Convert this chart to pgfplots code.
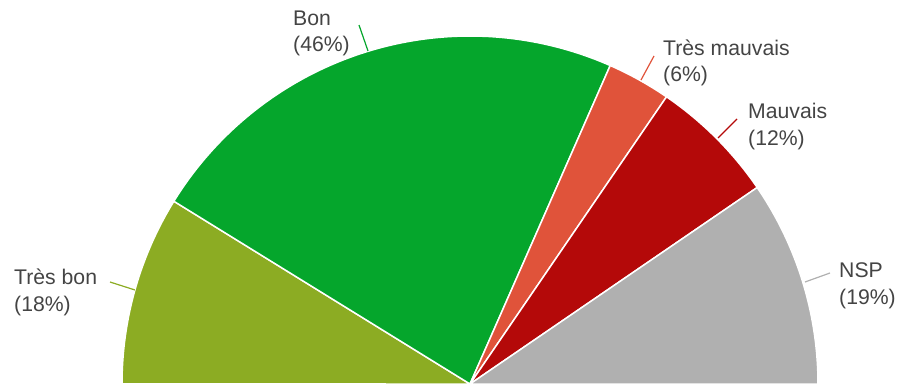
\documentclass[border=0pt]{standalone}
\usepackage{pgfplots}
\pgfplotsset{compat=1.18}
\usepackage{fontspec}
\setmainfont{Liberation Sans}
\definecolor{cTB}{HTML}{8CAC23}
\definecolor{cB}{HTML}{05A62C}
\definecolor{cTM}{HTML}{E0533A}
\definecolor{cM}{HTML}{B40909}
\definecolor{cNSP}{HTML}{B0B0B0}
\definecolor{txt}{HTML}{444444}
% sector: colour, cumulative percentage before it, its percentage
\newcommand{\sector}[3]{%
  \pgfmathsetmacro{\aHi}{180-1.8*#2}%
  \pgfmathsetmacro{\aLo}{180-1.8*(#2+#3)}%
  \addplot[fill=#1, draw=white, line width=1.5pt, line join=round, domain=\aLo:\aHi, samples=120, variable=\t]
    ({470+348*cos(\t)},{348*sin(\t)}) -- (axis cs:470,0) -- cycle;
}
\newcommand{\lab}[4]{% x, baseline y (pixels from top), line1, line2
  \node[anchor=base west, inner sep=0pt, text=txt, font=\fontsize{21.2}{25}\selectfont] at (axis cs:#1,{384-#2}) {#3};
  \node[anchor=base west, inner sep=0pt, text=txt, font=\fontsize{21.2}{25}\selectfont] at (axis cs:#1,{384-#2-27}) {#4};
}
\begin{document}
\begin{tikzpicture}
\begin{axis}[x=1pt, y=1pt, xmin=0, xmax=898, ymin=0, ymax=384,
  hide axis, clip=false, anchor=south west, at={(0,0)}]
\sector{cTB}{0}{17.6}
\sector{cB}{17.6}{45.6}
\sector{cTM}{63.2}{5.9}
\sector{cM}{69.1}{11.8}
\sector{cNSP}{80.9}{19.1}
% leader lines
\addplot[cTB, line width=1.2pt] coordinates {(110,102) (135,94)};
\addplot[cB, line width=1.2pt] coordinates {(359,359) (368,333)};
\addplot[cTM, line width=1.2pt] coordinates {(654,328) (641,304)};
\addplot[cM, line width=1.2pt] coordinates {(737,265) (718,246)};
\addplot[cNSP, line width=1.2pt] coordinates {(830,111) (805,102)};
\lab{14}{284}{Très bon}{(18\%)}
\lab{293}{25}{Bon}{(46\%)}
\lab{663}{55}{Très mauvais}{(6\%)}
\lab{748}{118}{Mauvais}{(12\%)}
\lab{839}{277}{NSP}{(19\%)}
\end{axis}
\pgfresetboundingbox
\path (0,0) rectangle (898pt,384pt);
\end{tikzpicture}
\end{document}
